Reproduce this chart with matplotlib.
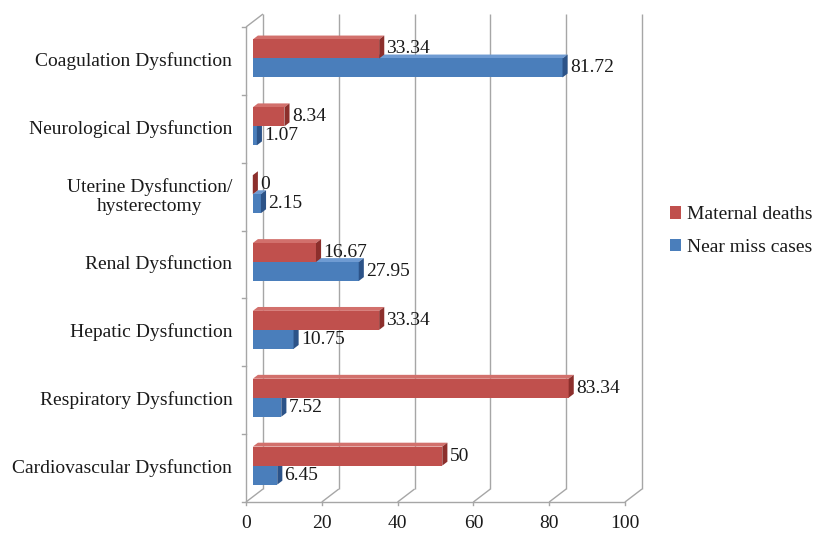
import matplotlib
matplotlib.use("Agg")
import matplotlib.pyplot as plt
from matplotlib.patches import Polygon, Patch

categories = [
    "Cardiovascular Dysfunction",
    "Respiratory Dysfunction",
    "Hepatic Dysfunction",
    "Renal Dysfunction",
    "Uterine Dysfunction/\nhysterectomy",
    "Neurological Dysfunction",
    "Coagulation Dysfunction",
]
maternal_deaths = [50, 83.34, 33.34, 16.67, 0, 8.34, 33.34]
near_miss_cases = [6.45, 7.52, 10.75, 27.95, 2.15, 1.07, 81.72]
x_ticks = [0, 20, 40, 60, 80, 100]
series_names = ["Maternal deaths", "Near miss cases"]

plt.rcParams["font.family"] = ["Liberation Serif", "DejaVu Serif"]
FS = 14
TXT = "#1a1a1a"
GRID = "#a6a6a6"

W, H = 814, 538
fig = plt.figure(figsize=(W / 100, H / 100), dpi=100)
ax = fig.add_axes([246 / W, 36 / H, 379 / W, 475 / H])
ax.set_xlim(0, 100)
ax.set_ylim(-0.5, len(categories) - 0.5)
ax.axis("off")

# depth of the 3-D box, in data units
DX = 17 / 3.79
DY = 13 / 67.9


def proj(v, c, d):
    return (v + d * DX, c + d * DY)


def poly(pts, fc, ec="none", lw=0.0, z=1):
    ax.add_patch(Polygon([proj(*p) for p in pts], closed=True, facecolor=fc,
                         edgecolor=ec, linewidth=lw, zorder=z, clip_on=False))


def line(p0, p1, color=GRID, lw=1.0, z=0.5):
    a, b = proj(*p0), proj(*p1)
    ax.plot([a[0], b[0]], [a[1], b[1]], color=color, lw=lw, zorder=z,
            clip_on=False, solid_capstyle="butt")


lo, hi = -0.5, len(categories) - 0.5

# back wall gridlines and floor lines
for t in x_ticks:
    line((t, lo, 1), (t, hi, 1))
    line((t, lo, 0), (t, lo, 1))
# left side wall
line((0, lo, 0), (0, hi, 0))
line((0, hi, 0), (0, hi, 1))
# front x axis with ticks
line((0, lo, 0), (100, lo, 0))
for t in x_ticks:
    a = proj(t, lo, 0)
    ax.plot([a[0], a[0]], [a[1], a[1] - 0.05], color=GRID, lw=1.0,
            clip_on=False, zorder=0.5)
    ax.text(a[0], a[1] - 0.31, f"{t}", ha="center", va="center",
            fontsize=FS, color=TXT)
# category ticks on the left wall
for k in range(len(categories) + 1):
    c = lo + k
    ax.plot([0, -1.0], [c, c], color=GRID, lw=1.0, clip_on=False, zorder=0.5)

# category labels
for i, name in enumerate(categories):
    ax.text(-3.6, i, name, ha="right", va="center", multialignment="center",
            fontsize=FS, color=TXT, linespacing=1.2)

RED = ("#c0504d", "#d2706c", "#8c2f2c")
BLUE = ("#4a7ebb", "#6f9bd2", "#2c5388")
F, G = 0.4, 0.3
BH = 0.28


def bar3d(v, y0, y1, cols, z):
    front, top, side = cols
    poly([(0, y1, F), (v, y1, F), (v, y1, F + G), (0, y1, F + G)], top, z=z)
    poly([(0, y0, F), (v, y0, F), (v, y1, F), (0, y1, F)], front, z=z)
    poly([(v, y0, F), (v, y1, F), (v, y1, F + G), (v, y0, F + G)], side, z=z)


for i in range(len(categories)):
    base = i - 0.04
    mv, nv = maternal_deaths[i], near_miss_cases[i]
    bar3d(nv, base - BH, base, BLUE, z=2 + i * 0.1)
    bar3d(mv, base, base + BH, RED, z=2.05 + i * 0.1)
    for v, yc in ((mv, base + BH / 2), (nv, base - BH / 2)):
        x, y = proj(v, yc, F)
        lab = f"{v:g}"
        ax.text(x + G * DX + 0.6, y, lab, ha="left", va="center",
                fontsize=FS, color=TXT, zorder=5)

handles = [Patch(facecolor=RED[0]), Patch(facecolor=BLUE[0])]
fig.legend(handles, series_names, loc="center left",
           bbox_to_anchor=(662 / W, 1 - 231 / H), frameon=False,
           fontsize=14, handlelength=0.6, handleheight=0.6,
           handletextpad=0.3, labelspacing=0.8, labelcolor=TXT,
           borderaxespad=0.0)

fig.savefig("out.png", dpi=100, facecolor="white")
